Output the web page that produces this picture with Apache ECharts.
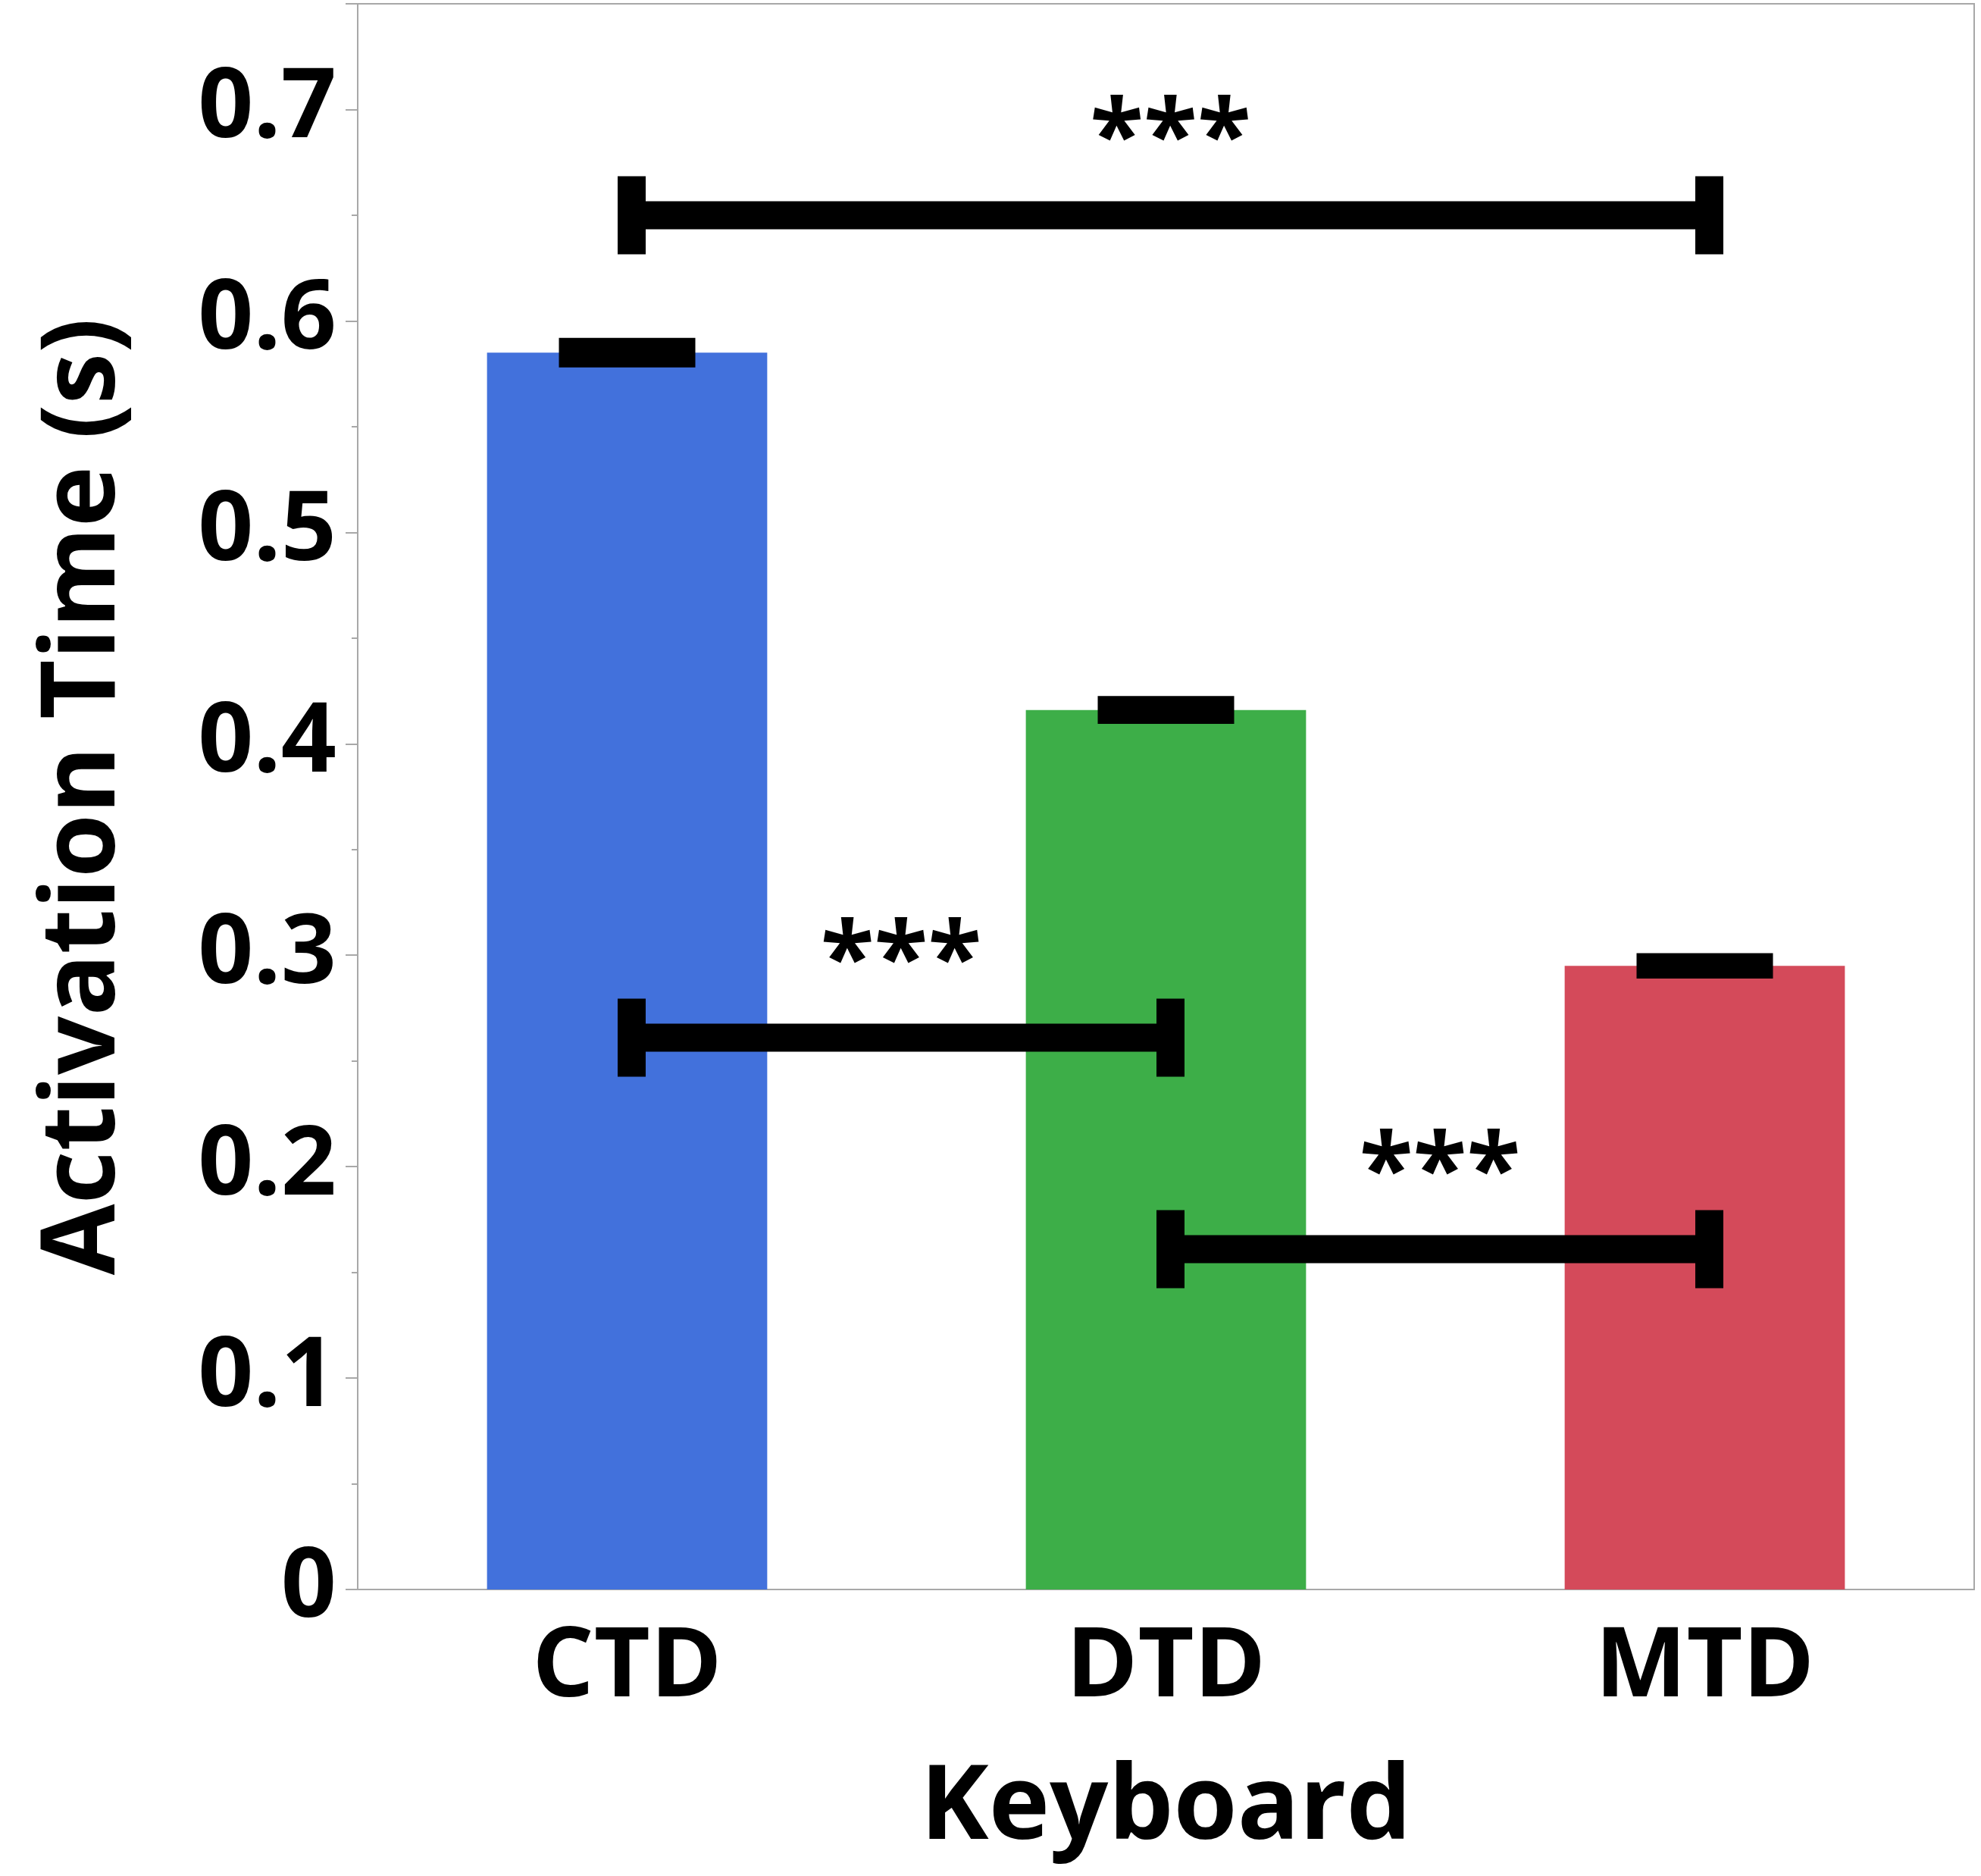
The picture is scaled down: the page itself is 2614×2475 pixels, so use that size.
<!DOCTYPE html>
<html>
<head>
<meta charset="utf-8">
<script src="https://cdn.jsdelivr.net/npm/echarts@6/dist/echarts.min.js"></script>
<style>
  html, body { margin: 0; padding: 0; background: #fff; }
  #main { width: 2614px; height: 2475px; }
</style>
</head>
<body>
<div id="main"></div>
<script>
    // data
    var categories = ['CTD', 'DTD', 'MTD'];
    var means = [0.585, 0.416, 0.295];
    var stdErr = [0.007, 0.0066, 0.006];
    var barColors = ['#4271DC', '#3DAE48', '#D44A5A'];

    // significance brackets: from category, to category, height, label
    var bracketFrom = [0, 0, 1];
    var bracketTo = [2, 1, 2];
    var bracketY = [0.65, 0.261, 0.161];
    var bracketText = ['***', '***', '***'];

    var yTicks = [0, 0.1, 0.2, 0.3, 0.4, 0.5, 0.6, 0.7];

    var font = '"Open Sans", "Noto Sans", sans-serif';

    var barData = means.map(function (v, i) {
        return { value: v, itemStyle: { color: barColors[i] } };
    });
    var errData = means.map(function (v, i) {
        return [i, v - stdErr[i], v + stdErr[i]];
    });
    var bracketData = bracketFrom.map(function (f, i) {
        return [f, bracketTo[i], bracketY[i], i];
    });

    var chart = echarts.init(document.getElementById('main'));
    var option = {
        animation: false,
        grid: {
            left: 472, right: 9, top: 5, bottom: 378,
            show: true, borderColor: '#a8a8a8', borderWidth: 2
        },
        xAxis: {
            type: 'category',
            data: categories,
            name: 'Keyboard',
            nameLocation: 'middle',
            nameGap: 222,
            nameTextStyle: { fontFamily: font, fontWeight: 'bold', fontSize: 136, color: '#000' },
            axisLine: { lineStyle: { color: '#a8a8a8', width: 2 } },
            axisTick: { show: false },
            axisLabel: { margin: 41, fontFamily: font, fontWeight: 'bold', fontSize: 128, color: '#000' }
        },
        yAxis: {
            type: 'value',
            min: 0,
            max: 0.75,
            interval: 0.1,
            name: 'Activation Time (s)',
            nameLocation: 'middle',
            nameGap: 292,
            nameTextStyle: { fontFamily: font, fontWeight: 'bold', fontSize: 136, color: '#000' },
            splitLine: { show: false },
            axisLine: { show: true, lineStyle: { color: '#a8a8a8', width: 2 } },
            axisTick: { show: true, length: 16, lineStyle: { color: '#a8a8a8', width: 2 } },
            minorTick: { show: true, splitNumber: 2, length: 8, lineStyle: { color: '#a8a8a8', width: 2 } },
            axisLabel: {
                margin: 28, fontFamily: font, fontWeight: 'bold', fontSize: 128, color: '#000',
                padding: [20, 0, 0, 0],
                showMaxLabel: false,
                formatter: function (v) {
                    var r = Math.round(v * 10) / 10;
                    return yTicks.indexOf(r) >= 0 && Math.abs(r - v) < 1e-6 ? String(r) : '';
                }
            }
        },
        series: [
            {
                type: 'bar',
                data: barData,
                barWidth: '52%'
            },
            {
                type: 'custom',
                data: errData,
                z: 5,
                renderItem: function (params, api) {
                    var hi = api.coord([api.value(0), api.value(2)]);
                    var lo = api.coord([api.value(0), api.value(1)]);
                    var w = 180;
                    return {
                        type: 'rect',
                        shape: { x: hi[0] - w / 2, y: hi[1], width: w, height: lo[1] - hi[1] },
                        style: { fill: '#000' }
                    };
                }
            },
            {
                type: 'custom',
                data: bracketData,
                z: 6,
                renderItem: function (params, api) {
                    var y = api.value(2);
                    var a = api.coord([api.value(0), y]);
                    var b = api.coord([api.value(1), y]);
                    var off = 6, t = 37, capH = 103;
                    var x1 = a[0] + off, x2 = b[0] + off;
                    return {
                        type: 'group',
                        children: [
                            { type: 'rect', shape: { x: x1, y: a[1] - t / 2, width: x2 - x1, height: t }, style: { fill: '#000' } },
                            { type: 'rect', shape: { x: x1 - t / 2, y: a[1] - capH / 2, width: t, height: capH }, style: { fill: '#000' } },
                            { type: 'rect', shape: { x: x2 - t / 2, y: a[1] - capH / 2, width: t, height: capH }, style: { fill: '#000' } },
                            {
                                type: 'text',
                                style: {
                                    x: (x1 + x2) / 2, y: a[1] - 33,
                                    text: bracketText[api.value(3)],
                                    fill: '#000',
                                    font: 'bold 130px ' + font,
                                    align: 'center', verticalAlign: 'bottom'
                                }
                            }
                        ]
                    };
                }
            }
        ]
    };
    chart.setOption(option);
</script>
</body>
</html>
